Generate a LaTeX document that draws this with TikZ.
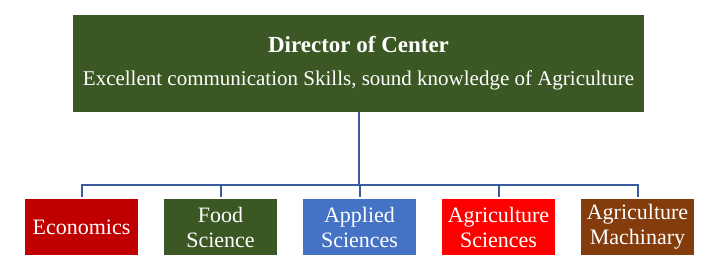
\documentclass[tikz,border=0pt]{standalone}
\usepackage{fontspec}
\setmainfont{Liberation Serif}
\definecolor{centerGreen}{HTML}{3B5724}
\definecolor{econRed}{HTML}{C00000}
\definecolor{appliedBlue}{HTML}{4472C4}
\definecolor{agriRed}{HTML}{FF0000}
\definecolor{machBrown}{HTML}{843C0C}
\definecolor{lineBlue}{HTML}{3B5C9C}
\tikzset{
  unitbox/.style={fill=#1, minimum width=113pt, minimum height=56pt, inner sep=0pt, align=center},
  orgline/.style={draw=lineBlue, line width=2pt}
}
\begin{document}
\begin{tikzpicture}[x=1pt, y=-1pt, every node/.style={font=\fontsize{22}{25}\selectfont, text=white}]
  \useasboundingbox (0,0) rectangle (709,278);
  \node[fill=centerGreen, minimum width=571pt, minimum height=97pt, align=center,
      font=\fontsize{21}{25}\selectfont] (director) at (358.5,63.5)
    {{\fontsize{23}{26}\selectfont\bfseries Director of Center}\\[8pt] Excellent communication Skills, sound knowledge of Agriculture};
  \foreach \name/\x/\col/\txt in {econ/81.5/econRed/Economics, food/220.5/centerGreen/{Food\\Science},
      applied/359.5/appliedBlue/{Applied\\Sciences}, agri/498.5/agriRed/{Agriculture\\Sciences},
      mach/637.5/machBrown/{Agriculture\\Machinary}}{
    \node[unitbox=\col] (\name) at (\x,227) {\txt};
  }
  \coordinate (bus) at (358.5,185);
  \draw[orgline] (director.south) -- (bus);
  \foreach \name in {econ,food,applied,agri,mach}
    \draw[orgline, shorten >=2pt] (bus) -| (\name.north);
\end{tikzpicture}
\end{document}
